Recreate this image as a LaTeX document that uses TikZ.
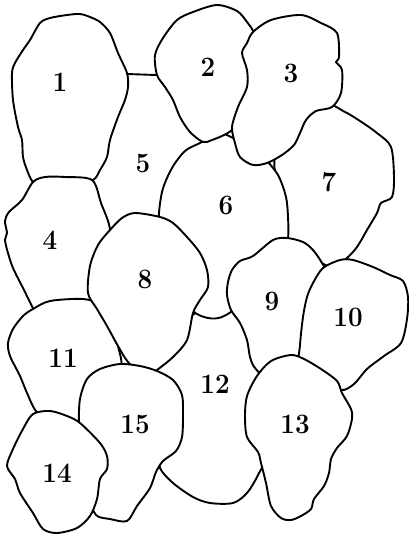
\documentclass[tikz,border=0pt]{standalone}
\usepackage{fontspec}
\newcommand\stonelab[1]{\scalebox{1}[1.08]{#1}}
\begin{document}
\begin{tikzpicture}[x=1pt,y=-1pt,
  stone/.style={draw=black,fill=white,line width=1.9pt,line join=round},
  seam/.style={draw=black,line width=1.9pt,line cap=round},
  lbl/.style={font=\fontsize{26}{26}\selectfont\bfseries,inner sep=0pt}]
\fill[white] (0,0) rectangle (409,536);
\useasboundingbox (0,0) rectangle (409,536);
% 12 (back)
\path[stone] plot[smooth cycle,tension=0.5] coordinates {(160,468) (173,483) (193,497) (210,503) (233,503) (247,493) (258,475) (268,450) (268,390) (258,340) (235,295) (212,302) (180,325) (160,350) (150,372) (158,400) (160,450)};
% 7
\path[stone] plot[smooth cycle,tension=0.5] coordinates {(322,103) (345,112) (360,121) (377,133) (391,147) (394,177) (392,197) (381,203) (377,213) (367,230) (357,247) (347,258) (334,268) (312,258) (290,248) (278,225) (276,190) (275,150) (290,125)};
% 6
\path[stone] plot[smooth cycle,tension=0.5] coordinates {(200,143) (220,133) (245,145) (263,157) (278,175) (286,197) (288,217) (288,238) (282,255) (262,280) (240,305) (222,317) (208,318) (193,311) (185,290) (170,250) (159,225) (162,192) (172,168) (185,151)};
% 2
\path[stone] plot[smooth cycle,tension=0.5] coordinates {(157,75) (155,55) (163,38) (177,20) (193,12) (217,5) (237,11) (247,22) (254,33) (260,55) (258,85) (250,110) (240,124) (226,134) (212,140) (203,142) (190,132) (180,117) (173,100) (165,87)};
% 3
\path[stone] plot[smooth cycle,tension=0.5] coordinates {(253,32) (271,20) (301,15) (321,23) (337,33) (339,57) (336,62) (342,70) (341,93) (332,107) (316,111) (306,120) (300,133) (294,145) (282,155) (267,163) (253,165) (240,157) (235,143) (232,127) (238,107) (247,87) (247,70) (242,53) (247,43)};
% 1
\path[stone] plot[smooth cycle,tension=0.5] coordinates {(40,23) (50,18) (67,15) (80,14) (90,17) (100,22) (110,33) (118,53) (127,73) (128,87) (125,100) (118,117) (110,140) (107,157) (100,170) (93,180) (70,186) (45,186) (33,182) (27,170) (23,157) (22,140) (18,127) (13,100) (12,73) (15,63) (23,50) (30,40)};
% seam between 1 and 2 (top of 5)
\coordinate (s1) at (127,74);
\coordinate (s2) at (156,75);
\draw[seam] (s1) -- (s2);
% 4
\path[stone] plot[smooth cycle,tension=0.5] coordinates {(33,182) (45,177) (65,177) (92,180) (101,203) (110,230) (104,260) (100,290) (85,310) (50,314) (38,316) (23,288) (13,268) (8,253) (5,240) (7,233) (5,221) (9,212) (22,200)};
% 11
\path[stone] plot[smooth cycle,tension=0.5] coordinates {(33,309) (50,301) (83,299) (100,305) (112,325) (118,346) (121,368) (105,395) (75,425) (50,418) (36,411) (27,393) (20,376) (10,356) (8,343) (13,329) (23,316)};
% 8
\path[stone] plot[smooth cycle,tension=0.5] coordinates {(110,230) (122,218) (135,213) (160,217) (173,223) (187,237) (200,253) (207,270) (208,287) (200,300) (193,313) (187,340) (173,357) (157,370) (145,378) (128,362) (118,346) (107,326) (97,309) (88,293) (90,266) (98,245)};
% 9
\path[stone] plot[smooth cycle,tension=0.5] coordinates {(273,240) (287,238) (303,242) (313,250) (322,263) (328,277) (318,305) (310,340) (290,366) (268,378) (255,368) (250,357) (247,340) (240,323) (231,310) (227,295) (228,282) (232,270) (240,261) (253,256)};
% 10
\path[stone] plot[smooth cycle,tension=0.5] coordinates {(323,268) (340,260) (353,260) (373,267) (390,275) (403,281) (408,297) (407,319) (401,343) (384,356) (367,369) (354,384) (341,390) (322,378) (300,365) (300,345) (303,317) (307,297) (313,283)};
% 13
\path[stone] plot[smooth cycle,tension=0.5] coordinates {(257,376) (271,361) (291,355) (304,359) (321,369) (337,381) (342,393) (351,409) (352,419) (347,436) (337,448) (331,459) (329,473) (324,486) (314,499) (311,509) (301,516) (291,520) (281,518) (271,506) (266,483) (261,463) (258,452) (247,437) (245,416) (247,396)};
% 15
\path[stone] plot[smooth cycle,tension=0.5] coordinates {(87,379) (100,369) (120,364) (140,366) (157,371) (173,380) (182,395) (183,415) (182,437) (176,451) (163,461) (156,472) (150,488) (137,506) (127,521) (110,519) (96,515) (88,495) (82,460) (79,425) (80,399)};
% 14
\path[stone] plot[smooth cycle,tension=0.5] coordinates {(33,414) (50,411) (67,416) (80,423) (100,443) (107,456) (107,469) (100,479) (97,499) (90,516) (77,528) (57,533) (43,529) (33,513) (20,493) (15,479) (7,466) (13,449) (23,429)};
% labels
\node[lbl] (l1) at (60,82) {\stonelab{1}};
\node[lbl] (l2) at (208,67) {\stonelab{2}};
\node[lbl] (l3) at (291,73) {\stonelab{3}};
\node[lbl] (l4) at (50,240) {\stonelab{4}};
\node[lbl] (l5) at (143,163) {\stonelab{5}};
\node[lbl] (l6) at (226,205) {\stonelab{6}};
\node[lbl] (l7) at (329,182) {\stonelab{7}};
\node[lbl] (l8) at (145,279) {\stonelab{8}};
\node[lbl] (l9) at (272,301) {\stonelab{9}};
\node[lbl] (l10) at (348,317) {\stonelab{10}};
\node[lbl] (l11) at (63,358) {\stonelab{11}};
\node[lbl] (l12) at (215,384) {\stonelab{12}};
\node[lbl] (l13) at (295,424) {\stonelab{13}};
\node[lbl] (l14) at (57,473) {\stonelab{14}};
\node[lbl] (l15) at (135,424) {\stonelab{15}};
\end{tikzpicture}
\end{document}
